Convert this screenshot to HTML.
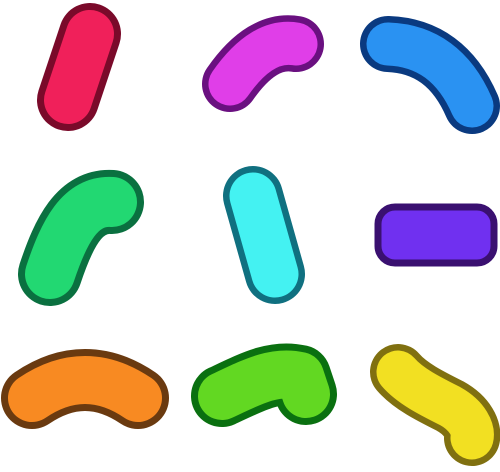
<!DOCTYPE html>
<html><head><meta charset="utf-8"><style>html,body{margin:0;padding:0;background:#fff}svg{display:block}</style></head>
<body>
<svg width="500" height="472" viewBox="0 0 500 472" fill="none" stroke-linecap="round" stroke-linejoin="round">
<g>
<path d="M90,34 L68,100" stroke="#7a0a2a" stroke-width="62"/>
<path d="M90,34 L68,100" stroke="#f0205a" stroke-width="48"/>
</g>
<g>
<path d="M230,84 Q262,38 296,44" stroke="#6a1080" stroke-width="56"/>
<path d="M230,84 Q262,38 296,44" stroke="#e03ee8" stroke-width="43"/>
</g>
<g>
<path d="M388,44 Q446,46 472,106" stroke="#0a3a80" stroke-width="56"/>
<path d="M388,44 Q446,46 472,106" stroke="#2a92f2" stroke-width="43"/>
</g>
<g>
<path d="M50,274 C64,232 80,200 112,202" stroke="#0a7040" stroke-width="64"/>
<path d="M50,274 C64,232 80,200 112,202" stroke="#22d872" stroke-width="50"/>
</g>
<g>
<path d="M253,196 L275,274" stroke="#107080" stroke-width="60"/>
<path d="M253,196 L275,274" stroke="#44f2f2" stroke-width="47"/>
</g>
<g>
<rect x="378" y="207" width="116" height="56" rx="17" fill="#7030f0" stroke="#3a1070" stroke-width="7"/>
</g>
<g>
<path d="M32,398 Q85,362 138,398" stroke="#6a3a10" stroke-width="62"/>
<path d="M32,398 Q85,362 138,398" stroke="#f88a22" stroke-width="48"/>
</g>
<g>
<path d="M222,396 C252,382 274,370 300,376 L306,394" stroke="#0a7010" stroke-width="62"/>
<path d="M222,396 C252,382 274,370 300,376 L306,394" stroke="#62d822" stroke-width="48"/>
</g>
<g>
<path d="M398,372 C410,386 430,396 450,406 C468,416 474,430 472,438" stroke="#807010" stroke-width="56"/>
<path d="M398,372 C410,386 430,396 450,406 C468,416 474,430 472,438" stroke="#f2e022" stroke-width="43"/>
</g>
</svg>
</body></html>
